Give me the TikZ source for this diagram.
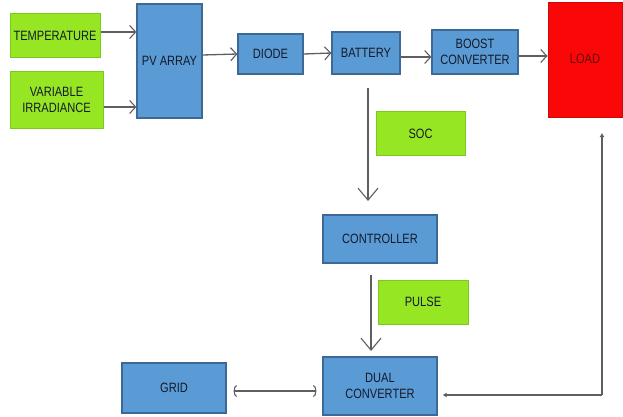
\documentclass[tikz,border=0pt]{standalone}
\usepackage{fontspec}
\setmainfont{Liberation Sans}[FakeStretch=0.82]
\usetikzlibrary{arrows.meta}
\definecolor{bluefill}{RGB}{91,155,213}
\definecolor{blueedge}{RGB}{60,105,150}
\definecolor{greenfill}{RGB}{150,230,35}
\definecolor{greenedge}{RGB}{125,200,30}
\definecolor{redfill}{RGB}{250,8,8}
\definecolor{rededge}{RGB}{200,10,10}
\definecolor{txt}{RGB}{20,25,40}
\definecolor{loadtxt}{RGB}{100,10,10}
\definecolor{wire}{RGB}{95,95,95}
\begin{document}
\begin{tikzpicture}[x=1pt,y=-1pt,
  box/.style={draw=blueedge,fill=bluefill,line width=1.2pt,inner sep=0pt,align=center,
    font=\fontsize{13.5}{16}\selectfont,text=txt},
  gbox/.style={draw=greenedge,fill=greenfill,line width=1pt,inner sep=0pt,align=center,
    font=\fontsize{13.5}{16}\selectfont,text=txt},
  wirearrow/.style={draw=wire,line width=1.3pt,-{Straight Barb[length=6pt,width=13pt,line width=1.1pt]}},
  vwire/.style={draw=wire,line width=1.1pt,-{Straight Barb[length=12pt,width=20pt,line width=1.1pt]}},
  fb/.style={draw=wire,line width=1.4pt,-{Latex[length=4pt,width=5pt]}},
  grid/.style={draw=wire,line width=1.4pt,{Arc Barb[length=3pt,width=12pt,line width=1.1pt]}-{Arc Barb[length=3pt,width=12pt,line width=1.1pt]}}]
\useasboundingbox (0,0) rectangle (623,417);
\fill[white] (0,0) rectangle (623,417);

\node[gbox,minimum width=90pt,minimum height=44pt] (temp) at (55,36) {TEMPERATURE};
\node[gbox,minimum width=93pt,minimum height=56pt] (irr) at (56.5,100) {VARIABLE\\IRRADIANCE};
\node[box,minimum width=65pt,minimum height=114pt] (pv) at (169.5,61) {PV ARRAY};
\node[box,minimum width=65pt,minimum height=40pt] (diode) at (270.5,54) {DIODE};
\node[box,minimum width=68pt,minimum height=42pt] (bat) at (366,53) {BATTERY};
\node[box,minimum width=86pt,minimum height=44pt] (boost) at (475,52) {BOOST\\CONVERTER};
\node[draw=rededge,fill=redfill,line width=1pt,minimum width=74pt,minimum height=115pt,inner sep=0pt,
  font=\fontsize{13.5}{16}\selectfont,text=loadtxt] (load) at (585,60.5) {\raisebox{4pt}{LOAD}};
\node[gbox,minimum width=89pt,minimum height=43pt] (soc) at (420.5,133.5) {SOC};
\node[box,minimum width=114pt,minimum height=48pt] (ctrl) at (380,239) {CONTROLLER};
\node[gbox,minimum width=90pt,minimum height=44pt] (pulse) at (423,302) {PULSE};
\node[box,minimum width=114pt,minimum height=58pt] (dual) at (380,386) {DUAL\\CONVERTER};
\node[box,minimum width=104pt,minimum height=50pt] (gridn) at (174,388) {GRID};

% top row
\draw[wirearrow] ([yshift=4pt]temp.east) -- ([yshift=4pt]temp.east -| pv.west);
\draw[wirearrow] ([yshift=-7pt]irr.east) -- ([yshift=-7pt]irr.east -| pv.west);
\draw[wirearrow] ([yshift=-1pt]pv.east |- diode.west) -- (diode.west);
\draw[wirearrow] (diode.east) -- (bat.west);
\draw[wirearrow] ([yshift=-4pt]bat.east) -- ([yshift=-4pt]bat.east -| boost.west);
\draw[wirearrow] ([yshift=-4pt]boost.east) -- ([yshift=-4pt]boost.east -| load.west);

% vertical chain
\coordinate (b1) at (368,88);
\coordinate (c1) at (368,201);
\draw[vwire] (b1) -- (c1);
\coordinate (c2) at (371,275);
\coordinate (d1) at (371,351);
\draw[vwire] (c2) -- (d1);

% grid link
\draw[grid] ([xshift=7pt,yshift=-3pt]gridn.east) -- ([xshift=-6pt,yshift=-3pt]gridn.east -| dual.west);

% feedback
\coordinate (fb1) at (602,395);
\coordinate (fb2) at (602,133);
\draw[fb] (fb1) -- ([xshift=5pt]dual.east |- fb1);
\draw[fb] (fb1) -- (fb2);
\end{tikzpicture}
\end{document}
